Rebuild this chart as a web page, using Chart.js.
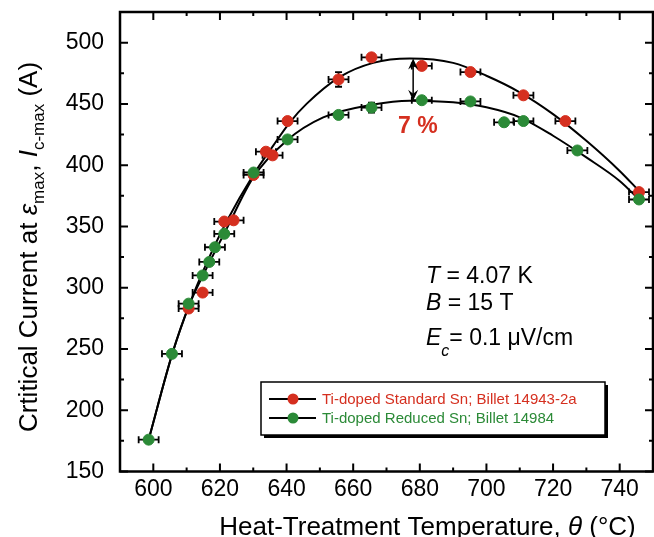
<!DOCTYPE html>
<html>
<head>
<meta charset="utf-8">
<script src="https://cdn.jsdelivr.net/npm/chart.js@4.4.1/dist/chart.umd.min.js"></script>
<style>
  body { margin: 0; background: #fff; }
  #wrap { width: 654px; height: 537px; }
</style>
</head>
<body>
<div id="wrap"><canvas id="chart" width="654" height="537"></canvas></div>
<script>
// Ti-doped Standard Sn; Billet 14943-2a
const stdTemp = [610.6, 614.8, 621.3, 624.1, 630.1, 633.8, 635.8, 640.3, 655.6, 665.5, 680.6, 695.2, 711.1, 723.7, 745.8];
const stdIc = [283, 296, 354, 355, 392, 411, 408, 436, 470, 488, 481, 476, 457, 436, 378];
const stdTempErr = [3, 3, 3, 3, 3, 3, 3, 3, 3, 3, 3, 3, 3, 3, 3];
const stdIcErr = [0, 0, 0, 0, 0, 0, 0, 0, 6, 0, 0, 0, 0, 0, 0];

// Ti-doped Reduced Sn; Billet 14984
const reducedTemp = [598.6, 605.6, 610.6, 614.8, 616.8, 618.5, 621.3, 630.1, 640.3, 655.6, 665.5, 680.6, 695.2, 705.3, 711.1, 727.3, 745.8];
const reducedIc = [176, 246, 287, 310, 321, 333, 344, 394, 421, 441, 447, 453, 452, 435, 436, 412, 372];
const reducedTempErr = [3, 3, 3, 3, 3, 3, 3, 3, 3, 3, 3, 3, 3, 3, 3, 3, 3];
const reducedIcErr = [0, 0, 0, 0, 0, 0, 0, 0, 0, 0, 4, 2, 0, 0, 0, 0, 0];

// fitted curves
const stdFitTemp = [598.6, 605.8, 610.8, 616, 622, 630, 636, 641, 646, 656, 666, 677, 690, 700, 710, 720, 730, 740, 745.8];
const stdFitIc = [176, 247, 286, 320, 354, 392, 416, 435, 450, 472, 483.5, 487, 483.5, 473, 459.5, 441.7, 419.9, 395.3, 379];
const reducedFitTemp = [598.6, 605.8, 610.8, 616, 622, 630, 640, 651, 666, 677, 690, 700, 710, 720, 730, 740, 745.8];
const reducedFitIc = [176, 247, 286, 316, 348, 390, 420, 439, 449.5, 452.6, 451.3, 447.2, 439, 424, 406.3, 387.1, 372];

const tempTicks = [600, 620, 640, 660, 680, 700, 720, 740];
const currentTicks = [150, 200, 250, 300, 350, 400, 450, 500];

const RED = '#d52f1f';
const GREEN = '#2b8a37';
const FONT = '"Liberation Sans", Arial, sans-serif';

function toPoints(xs, ys) {
  return xs.map((x, i) => ({ x: x, y: ys[i] }));
}

// draws a row of text pieces (different fonts / offsets) one after the other
function drawRuns(ctx, runs, x, y) {
  let cx = x;
  for (const r of runs) {
    ctx.font = r.font;
    ctx.fillText(r.text, cx, y + (r.dy || 0));
    cx += ctx.measureText(r.text).width;
  }
}
function runsWidth(ctx, runs) {
  let w = 0;
  for (const r of runs) {
    ctx.font = r.font;
    w += ctx.measureText(r.text).width;
  }
  return w;
}

const errorBars = {
  id: 'errorBars',
  beforeDatasetsDraw(chart) {
    const ctx = chart.ctx, xs = chart.scales.x, ys = chart.scales.y;
    const sets = [
      [stdTemp, stdIc, stdTempErr, stdIcErr],
      [reducedTemp, reducedIc, reducedTempErr, reducedIcErr]
    ];
    ctx.save();
    ctx.strokeStyle = '#000';
    ctx.lineWidth = 1.8;
    for (const [tx, iy, ex, ey] of sets) {
      for (let i = 0; i < tx.length; i++) {
        const py = ys.getPixelForValue(iy[i]);
        const px = xs.getPixelForValue(tx[i]);
        const x0 = xs.getPixelForValue(tx[i] - ex[i]);
        const x1 = xs.getPixelForValue(tx[i] + ex[i]);
        ctx.beginPath();
        ctx.moveTo(x0, py); ctx.lineTo(x1, py);
        ctx.moveTo(x0, py - 3.5); ctx.lineTo(x0, py + 3.5);
        ctx.moveTo(x1, py - 3.5); ctx.lineTo(x1, py + 3.5);
        if (ey[i]) {
          const y0 = ys.getPixelForValue(iy[i] - ey[i]);
          const y1 = ys.getPixelForValue(iy[i] + ey[i]);
          ctx.moveTo(px, y0); ctx.lineTo(px, y1);
          ctx.moveTo(px - 3.5, y0); ctx.lineTo(px + 3.5, y0);
          ctx.moveTo(px - 3.5, y1); ctx.lineTo(px + 3.5, y1);
        }
        ctx.stroke();
      }
    }
    ctx.restore();
  }
};

const frameAndText = {
  id: 'frameAndText',
  afterDraw(chart) {
    const ctx = chart.ctx, a = chart.chartArea;
    const xs = chart.scales.x, ys = chart.scales.y;
    ctx.save();
    ctx.strokeStyle = '#000';

    // inward ticks on all four sides
    ctx.lineWidth = 2;
    ctx.beginPath();
    for (const t of xs.ticks) {
      const px = xs.getPixelForValue(t.value);
      const len = tempTicks.includes(t.value) ? 8 : 4;
      ctx.moveTo(px, a.bottom); ctx.lineTo(px, a.bottom - len);
      ctx.moveTo(px, a.top); ctx.lineTo(px, a.top + len);
    }
    for (const t of ys.ticks) {
      const py = ys.getPixelForValue(t.value);
      const len = currentTicks.includes(t.value) ? 8 : 4;
      ctx.moveTo(a.left, py); ctx.lineTo(a.left + len, py);
      ctx.moveTo(a.right, py); ctx.lineTo(a.right - len, py);
    }
    ctx.stroke();

    ctx.lineWidth = 2.5;
    ctx.strokeRect(a.left, a.top, a.right - a.left, a.bottom - a.top);

    // 7 % arrow between the two maxima
    const ax = xs.getPixelForValue(678);
    const aTop = ys.getPixelForValue(487);
    const aBot = ys.getPixelForValue(452.6);
    ctx.lineWidth = 1.5;
    ctx.beginPath();
    ctx.moveTo(ax, aTop + 4); ctx.lineTo(ax, aBot - 4);
    ctx.stroke();
    ctx.fillStyle = '#000';
    for (const [tip, dir] of [[aTop, 1], [aBot, -1]]) {
      ctx.beginPath();
      ctx.moveTo(ax, tip);
      ctx.lineTo(ax - 5, tip + dir * 11);
      ctx.lineTo(ax, tip + dir * 7);
      ctx.lineTo(ax + 5, tip + dir * 11);
      ctx.closePath();
      ctx.fill();
    }

    ctx.fillStyle = RED;
    ctx.font = 'bold 23px ' + FONT;
    ctx.textBaseline = 'alphabetic';
    ctx.fillText('7 %', 398, 133);

    // measurement conditions
    ctx.fillStyle = '#000';
    const big = '23px ' + FONT, bigIt = 'italic 23px ' + FONT;
    drawRuns(ctx, [{ text: 'T', font: bigIt }, { text: ' = 4.07 K', font: big }], 426, 283);
    drawRuns(ctx, [{ text: 'B', font: bigIt }, { text: ' = 15 T', font: big }], 426, 310);
    drawRuns(ctx, [{ text: 'E', font: bigIt }, { text: 'c', font: 'italic 16px ' + FONT, dy: 11 },
      { text: '= 0.1 \u03BCV/cm', font: big }], 426, 345);

    // legend box
    const lx = 261, ly = 382, lw = 344, lh = 53;
    ctx.fillStyle = '#000';
    ctx.fillRect(lx + 3, ly + 3, lw, lh);
    ctx.fillStyle = '#fff';
    ctx.fillRect(lx, ly, lw, lh);
    ctx.lineWidth = 1.5;
    ctx.strokeRect(lx, ly, lw, lh);
    const rows = [
      { label: 'Ti-doped Standard Sn; Billet 14943-2a', color: RED, y: 399 },
      { label: 'Ti-doped Reduced Sn; Billet 14984', color: GREEN, y: 418 }
    ];
    ctx.font = '15px ' + FONT;
    ctx.textBaseline = 'middle';
    for (const r of rows) {
      ctx.strokeStyle = '#000';
      ctx.lineWidth = 2;
      ctx.beginPath();
      ctx.moveTo(269, r.y); ctx.lineTo(316, r.y);
      ctx.stroke();
      ctx.fillStyle = r.color;
      ctx.beginPath();
      ctx.arc(293, r.y, 5.5, 0, Math.PI * 2);
      ctx.fill();
      ctx.fillText(r.label, 322, r.y + 1);
    }

    // axis titles (sub/superscripts, so drawn by hand)
    ctx.fillStyle = '#000';
    ctx.textBaseline = 'alphabetic';
    const xRuns = [
      { text: 'Heat-Treatment Temperature, ', font: '26px ' + FONT },
      { text: '\u03B8', font: 'italic 26px ' + FONT },
      { text: ' (\u00B0C)', font: '26px ' + FONT }
    ];
    drawRuns(ctx, xRuns, 427.5 - runsWidth(ctx, xRuns) / 2, 534.5);

    const yRuns = [
      { text: 'Crtitical Current at ', font: '26px ' + FONT },
      { text: '\u03B5', font: 'italic 26px ' + FONT },
      { text: 'max', font: '17px ' + FONT, dy: 7 },
      { text: ', ', font: '26px ' + FONT },
      { text: 'I', font: 'italic 26px ' + FONT },
      { text: 'c-max', font: '17px ' + FONT, dy: 7 },
      { text: ' (A)', font: '26px ' + FONT }
    ];
    ctx.translate(37, 247);
    ctx.rotate(-Math.PI / 2);
    drawRuns(ctx, yRuns, -runsWidth(ctx, yRuns) / 2, 0);
    ctx.restore();
  }
};

Chart.defaults.font.family = FONT;
Chart.defaults.color = '#000';

new Chart(document.getElementById('chart'), {
  type: 'scatter',
  data: {
    datasets: [
      {
        label: 'Ti-doped Reduced Sn; Billet 14984',
        data: toPoints(reducedTemp, reducedIc),
        backgroundColor: GREEN,
        borderColor: GREEN,
        pointRadius: 5.5,
        order: 0
      },
      {
        label: 'Ti-doped Standard Sn; Billet 14943-2a',
        data: toPoints(stdTemp, stdIc),
        backgroundColor: RED,
        borderColor: RED,
        pointRadius: 5.5,
        order: 1
      },
      {
        label: 'fit standard',
        data: toPoints(stdFitTemp, stdFitIc),
        showLine: true,
        borderColor: '#000',
        borderWidth: 2,
        pointRadius: 0,
        cubicInterpolationMode: 'monotone',
        order: 2
      },
      {
        label: 'fit reduced',
        data: toPoints(reducedFitTemp, reducedFitIc),
        showLine: true,
        borderColor: '#000',
        borderWidth: 2,
        pointRadius: 0,
        cubicInterpolationMode: 'monotone',
        order: 2
      }
    ]
  },
  options: {
    responsive: false,
    animation: false,
    devicePixelRatio: 1,
    // no extra room for point overflow, the frame has to reach the right edge
    layout: { autoPadding: false, padding: { top: 12, right: 1, left: 0, bottom: 0 } },
    plugins: {
      legend: { display: false },
      tooltip: { enabled: false }
    },
    scales: {
      x: {
        type: 'linear',
        min: 590,
        max: 750,
        grid: { display: false, drawTicks: false },
        border: { display: false },
        ticks: {
          stepSize: 10,
          autoSkip: false,
          maxRotation: 0,
          padding: 0,
          // taller line box pushes the labels down instead of tick padding
          font: { size: 23, lineHeight: 1.55 },
          callback: (v) => tempTicks.includes(v) ? String(v) : ''
        },
        afterFit: (s) => { s.height = 65.5; s.paddingLeft = 0; s.paddingRight = 0; }
      },
      y: {
        min: 150,
        max: 525,
        grid: { display: false, drawTicks: false },
        border: { display: false },
        ticks: {
          stepSize: 25,
          autoSkip: false,
          padding: 16,
          font: { size: 23 },
          callback: (v) => currentTicks.includes(v) ? String(v) : ''
        },
        afterFit: (s) => { s.width = 120; s.paddingTop = 0; s.paddingBottom = 0; }
      }
    }
  },
  plugins: [errorBars, frameAndText]
});
</script>
</body>
</html>
